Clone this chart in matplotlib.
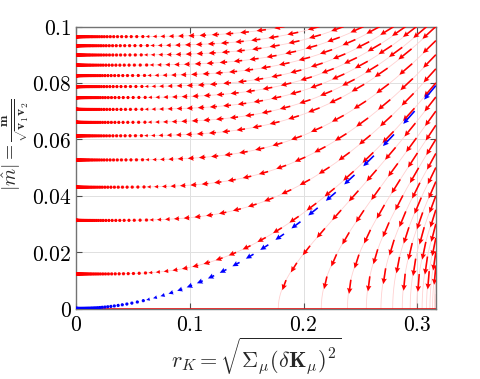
import numpy as np
import matplotlib
matplotlib.use("Agg")
import matplotlib.pyplot as plt
from matplotlib.ticker import FuncFormatter

plt.rcParams['mathtext.fontset'] = 'cm'
plt.rcParams['font.family'] = ['DejaVu Serif']

# axis range
x_max = np.sqrt(0.1)
y_max = 0.1

# separatrix  y^2 = k2 * x^4  (blue curve, ends at y ~ 0.079 on the right edge)
k2 = 0.625

# flow lines entering through the top edge, labelled by where they meet x = 0
y0_top = [0.0964, 0.0932, 0.0899, 0.0863, 0.0826, 0.0787, 0.0748, 0.0706, 0.0660]
# flow lines entering through the right edge, labelled by their starting height
y_right = [0.100, 0.095, 0.090, 0.085, 0.080, 0.075, 0.070, 0.065, 0.060, 0.055,
           0.050, 0.045, 0.040, 0.035, 0.030, 0.025, 0.020, 0.015, 0.010, 0.005]

# pixel scale of the axes (px per data unit), used for arrow spacing
sx, sy = 1136.0, 2820.0
dl = 0.095        # flow step between arrows
shrink = 0.55     # arrow length / distance to next arrow


def flow_line(C, x_start):
    # invariant of the flow: y^2 - k2 x^4 = C
    if C >= 0:
        x = np.linspace(x_start, 2e-4, 6000)
        y = np.sqrt(C + k2 * x**4)
    else:
        y_s = np.sqrt(max(C + k2 * x_start**4, 0))
        y = np.linspace(y_s, 0, 6000)
        x = ((y**2 - C) / k2) ** 0.25
    return x, y


def arrows(x, y):
    ds = np.hypot(np.diff(x) * sx, np.diff(y) * sy)
    xm = 0.5 * (x[1:] + x[:-1]) * sx
    l = np.concatenate([[0], np.cumsum(ds / xm)])
    ls = np.arange(0, l[-1], dl)
    px = np.interp(ls, l, x)
    py = np.interp(ls, l, y)
    u = shrink * np.diff(px)
    v = shrink * np.diff(py)
    return px[:-1], py[:-1], u, v


lines = []
for y0 in y0_top:
    C = y0**2
    xt = ((y_max**2 - C) / k2) ** 0.25
    lines.append(flow_line(C, min(xt, x_max)))
for ys in y_right:
    C = ys**2 - k2 * x_max**4
    lines.append(flow_line(C, x_max))
sep = flow_line(0.0, x_max)

fig = plt.figure(figsize=(4.8, 3.79), dpi=100)
ax = fig.add_axes([0.158, 0.186, 0.750, 0.744])

for x, y in lines:
    ax.plot(x, y, color=(1, 0.82, 0.82), lw=0.6, zorder=1)
ax.plot([0, x_max], [0, 0], color='red', lw=1.2, zorder=2)

qkw = dict(angles='xy', scale_units='xy', scale=1, width=0.0045,
           headwidth=3.4, headlength=3.6, headaxislength=3.2,
           minlength=2.2, zorder=3)
for x, y in lines:
    px, py, u, v = arrows(x, y)
    ax.quiver(px, py, u, v, color='red', **qkw)
px, py, u, v = arrows(*sep)
ax.quiver(px, py, u, v, color='blue', **qkw)

ax.set_xlim(0, x_max)
ax.set_ylim(0, y_max)
ax.set_xticks([0, 0.1, 0.2, 0.3])
ax.set_yticks([0, 0.02, 0.04, 0.06, 0.08, 0.1])
fmt = FuncFormatter(lambda v, p: '$%g$' % v)
ax.xaxis.set_major_formatter(fmt)
ax.yaxis.set_major_formatter(fmt)
ax.tick_params(direction='in', length=4, labelsize=15.5, top=True, right=True,
               color='0.3', pad=4)
ax.tick_params(axis='y', pad=3)
ax.grid(True, color='0.88', lw=0.7)
ax.set_axisbelow(True)
for s in ax.spines.values():
    s.set_color('0.45')
    s.set_linewidth(1.0)

ax.set_xlabel(r'$r_K = \sqrt{\Sigma_{\mu}(\delta\mathbf{K}_{\mu})^{\mathbf{2}}}$',
              fontsize=16, color='0.15')
ax.xaxis.set_label_coords(0.5, -0.095)
ax.set_ylabel(r'$|\hat{m}| = \frac{\mathbf{m}}{\sqrt{\mathbf{v_1 v_2}}}$',
              fontsize=14, color='0.15')
ax.yaxis.set_label_coords(-0.125, 0.58)

fig.savefig('out.png', dpi=100)
